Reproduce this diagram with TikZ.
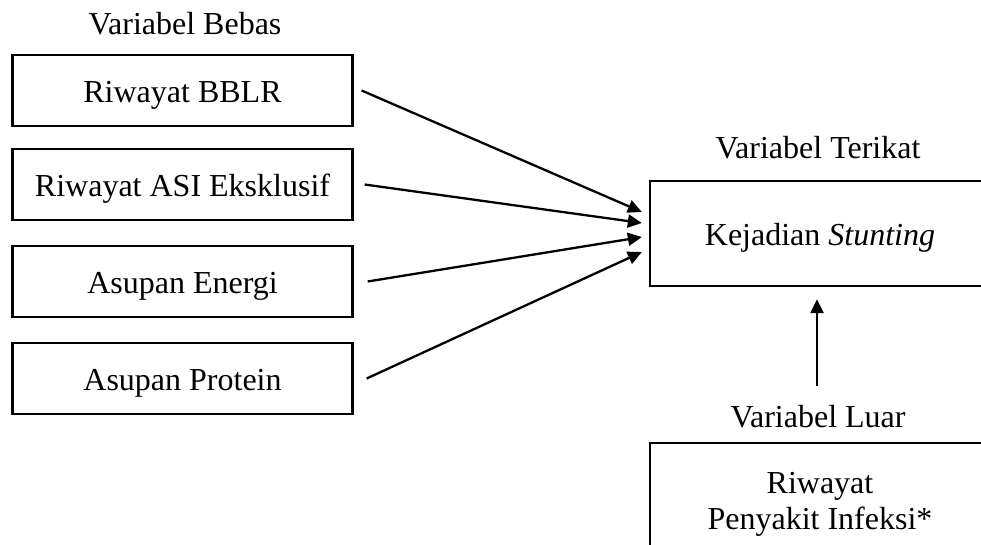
\documentclass[tikz,border=0pt]{standalone}
\usepackage{fontspec}
\setmainfont{Liberation Serif}
\usetikzlibrary{arrows.meta}

\tikzset{
  basebox/.style={draw, line width=2.3pt, minimum width=340pt, minimum height=71pt,
                  inner sep=0pt, align=center},
  varbox/.style={basebox, text height=30pt, text depth=7pt},
  varlabel/.style={inner sep=0pt},
  arr/.style={line width=2.3pt, -{Triangle[length=14pt,width=13pt]}}
}

\begin{document}
\begin{tikzpicture}[x=1pt, y=-1pt, font=\fontsize{32}{36}\selectfont]
  \clip (0,0) rectangle (981,544);

  \node[varlabel] (bebas) at (185,24) {Variabel Bebas};
  \node[varbox] (bblr)    at (182.5,90.5)  {Riwayat BBLR};
  \node[varbox] (asi)     at (182.5,184.5) {Riwayat ASI Eksklusif};
  \node[varbox] (energi)  at (182.5,281.5) {Asupan Energi};
  \node[varbox] (protein) at (182.5,378.5) {Asupan Protein};

  \node[varlabel] (terikat) at (818,148) {Variabel Terikat};
  \node[varbox, minimum height=105pt] (stunting) at (820,233.5) {Kejadian \textit{Stunting}};

  \node[varlabel] (luar) at (818,417) {Variabel Luar};
  \node[basebox, minimum height=122pt] (infeksi) at (820,504) {Riwayat\\Penyakit Infeksi*};

  \draw[arr] ([xshift=8pt]bblr.east)     -- ([xshift=-7pt,yshift=21.5pt]stunting.west);
  \draw[arr] ([xshift=11pt]asi.east)     -- ([xshift=-7pt,yshift=10.5pt]stunting.west);
  \draw[arr] ([xshift=14pt]energi.east)  -- ([xshift=-7pt,yshift=-3.5pt]stunting.west);
  \draw[arr] ([xshift=13pt]protein.east) -- ([xshift=-7pt,yshift=-18.5pt]stunting.west);

  \draw[arr] ([xshift=-1pt,yshift=19pt]luar.north) -- ([xshift=-3pt,yshift=-12pt]stunting.south);
\end{tikzpicture}
\end{document}
